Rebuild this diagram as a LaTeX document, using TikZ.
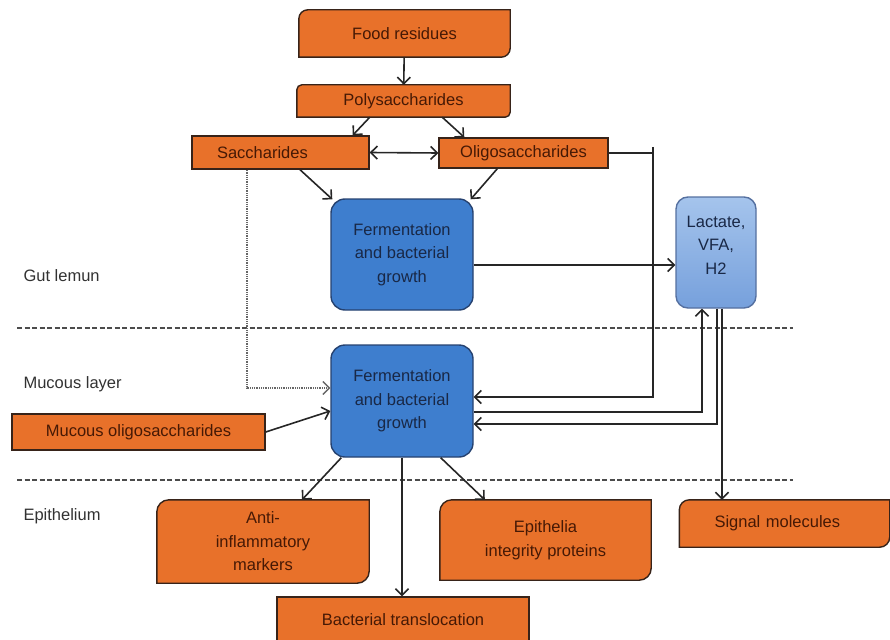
\documentclass[tikz,border=0pt]{standalone}
\usepackage{fontspec}
\setmainfont{Liberation Sans}
\usetikzlibrary{
		arrows.meta,
		backgrounds
	}
\definecolor{boxorange}{RGB}{232,113,42}
\definecolor{boxedge}{RGB}{55,35,25}
\definecolor{orangetext}{RGB}{70,25,5}
\definecolor{fermblue}{RGB}{62,126,206}
\definecolor{fermedge}{RGB}{38,66,112}
\definecolor{fermtext}{RGB}{25,40,70}
\definecolor{lacttop}{RGB}{165,196,236}
\definecolor{lactbottom}{RGB}{118,160,220}
\definecolor{lactedge}{RGB}{85,112,160}
\definecolor{layertext}{RGB}{50,50,50}
\tikzset{
		>={Straight Barb[length=6.5pt,width=13pt]},
		txt/.style={font=\fontsize{16.5}{23.5}\selectfont},
		orangebox/.style={txt, draw=boxedge, fill=boxorange, text=orangetext, line width=1.4pt, inner sep=0pt},
		cornerbox/.style={txt, text=orangetext, inner sep=0pt, align=center},
		fermbox/.style={txt, draw=fermedge, fill=fermblue, text=fermtext, rounded corners=14pt, line width=1.4pt, align=center, minimum width=142pt, minimum height=111pt},
		layer/.style={txt, text=layertext, anchor=west},
		flow/.style={->, line width=1.6pt, black!85},
		link/.style={line width=1.6pt, black!85},
		dotflow/.style={->, dash pattern=on 1pt off 0.8pt, line width=1.3pt, black!60},
		zone/.style={dash pattern=on 5pt off 2.5pt, line width=1.1pt, black!70}
	}

\begin{document}
\begin{tikzpicture}[x=1pt, y=-1pt]
            \useasboundingbox (0,0) rectangle (890,639);
            \clip (0,0) rectangle (890,639);

            % layers
            \draw[zone] (17,328) -- (793,328);
            \draw[zone] (17,480) -- (793,480);
            \node[layer] (gut) at (20,276) {Gut lemun};
            \node[layer] (mucl) at (20,384) {Mucous layer};
            \node[layer] (epil) at (20,516) {Epithelium};

            \node[cornerbox, minimum width=211pt, minimum height=47pt] (food) at (404.5,33.5) {Food residues};
            \node[cornerbox, minimum width=213pt, minimum height=32pt] (poly) at (403.5,101) {Polysaccharides};
            \node[orangebox, text width=127pt, inner xsep=25pt, align=left, minimum height=33pt] (sacch) at (280.5,152.5) {Saccharides};
            \node[orangebox, minimum width=169pt, minimum height=30pt] (oligo) at (523.5,153) {Oligosaccharides};

            \node[fermbox] (ferm1) at (402,254.5) {Fermentation\\and bacterial\\growth};
            \node[fermbox, minimum height=112pt] (ferm2) at (402,401) {Fermentation\\and bacterial\\growth};
            \node[txt, draw=lactedge, top color=lacttop, bottom color=lactbottom, text=fermtext, rounded corners=12pt, line width=1.4pt,
                  minimum width=80pt, minimum height=111pt, text height=34pt, text depth=38pt] (lact) at (716,252.5)
                  {\begin{tabular}{@{}c@{}}Lactate,\\VFA,\\H2\end{tabular}};

            \node[orangebox, minimum width=253pt, minimum height=36pt] (mucous) at (138.5,432) {Mucous oligosaccharides};
            \node[cornerbox, minimum width=212pt, minimum height=83pt] (anti) at (263,541.5) {Anti-\\inflammatory\\markers};
            \node[cornerbox, minimum width=211pt, minimum height=80pt] (epi) at (545.5,540) {Epithelia\\integrity proteins};
            \node[orangebox, minimum width=252pt, minimum height=46pt] (bact) at (403,620) {Bacterial translocation};
            \node[cornerbox, text width=140pt, inner xsep=35pt, align=left, minimum height=47pt] (signal) at (784.5,523.5) {Signal molecules};

            \begin{scope}[on background layer]
            \foreach \n/\rad in {food/9pt,poly/5pt,anti/12pt,epi/12pt,signal/10pt}
            \draw[draw=boxedge, fill=boxorange, line width=1.4pt]
                (\n.west) [rounded corners=\rad] -- (\n.north west) -- (\n.north) [sharp corners] -- (\n.north east) -- (\n.east)
                [rounded corners=\rad] -- (\n.south east) -- (\n.south) [sharp corners] -- (\n.south west) -- cycle;
            \end{scope}

            % top part
            \draw[flow] (food) -- (poly);
            \draw[flow] ([xshift=73pt]poly.south west) -- ([xshift=-17pt]sacch.north east);
            \draw[flow] ([xshift=-68pt]poly.south east) -- ([xshift=26pt]oligo.north west);
            \draw[flow, <->] (sacch.east) -- (oligo.west);
            \draw[flow] ([xshift=19.5pt]sacch.south) -- ([xshift=2pt,yshift=-1pt]ferm1.north west);
            \draw[flow] ([xshift=59pt]oligo.south west) -- ([xshift=-3pt,yshift=-1pt]ferm1.north east);
            \draw[flow] ([yshift=-10.5pt]ferm1.east) -- ([yshift=-10.5pt]ferm1.east -| lact.west);

            % oligosaccharides down to the mucous layer
            \coordinate (oturn) at (653,153);
            \coordinate (otick) at (653,147);
            \draw[link] (oligo.east) -- (oturn);
            \draw[flow] (otick) |- ([yshift=4pt]ferm2.east);
            \draw[dotflow] ([xshift=-33.5pt]sacch.south) |- ([yshift=13pt]ferm2.west);

            % mucous layer
            \draw[flow] ([yshift=-11pt]ferm2.east) -| ([xshift=-14pt]lact.south);
            \draw[flow] ([xshift=1pt]lact.south) |- ([yshift=-23pt]ferm2.east);
            \draw[flow] ([xshift=6pt]lact.south) -- ([xshift=6pt]lact.south |- signal.north);
            \draw[flow] (mucous.east) -- ([yshift=-10pt]ferm2.west);

            % epithelium
            \draw[flow] ([xshift=11pt]ferm2.south west) -- ([xshift=39pt]anti.north);
            \draw[flow] (ferm2.south) -- (ferm2.south |- bact.north);
            \draw[flow] ([xshift=-33pt]ferm2.south east) -- ([xshift=45pt]epi.north west);

        \end{tikzpicture}
\end{document}
